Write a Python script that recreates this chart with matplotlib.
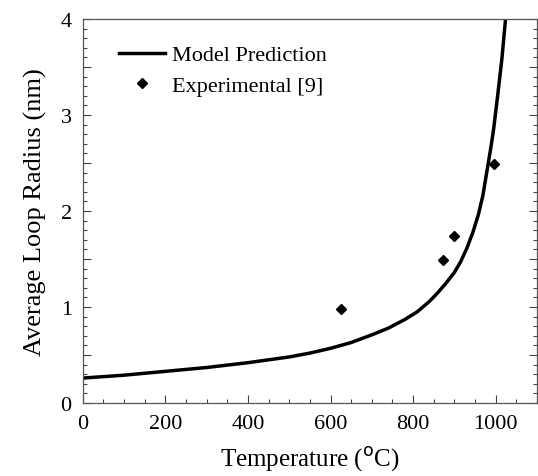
import matplotlib.pyplot as plt
from matplotlib.ticker import MultipleLocator, FuncFormatter

plt.rcParams['font.family'] = ['Liberation Serif', 'DejaVu Serif']

# Curva del modelo
temp_modelo = [0, 100, 200, 300, 400, 450, 500, 550, 600, 650, 700, 740, 780, 810, 840,
               860, 880, 900, 915, 930, 945, 958, 969, 981, 988, 995, 1004, 1015, 1024]
radio_modelo = [0.26, 0.29, 0.33, 0.37, 0.42, 0.45, 0.48, 0.52, 0.57, 0.63, 0.71, 0.78,
                0.87, 0.95, 1.06, 1.15, 1.25, 1.36, 1.47, 1.61, 1.78, 1.96, 2.16, 2.47,
                2.65, 2.85, 3.17, 3.58, 4.0]

# Puntos experimentales [9]
temp_exp = [625, 872, 898, 997]
radio_exp = [0.98, 1.49, 1.74, 2.49]

fig = plt.figure(figsize=(5.38, 4.77), dpi=100)
ax = fig.add_axes([0.154, 0.153, 0.844, 0.805])

ax.plot(temp_modelo, radio_modelo, color='black', lw=2.5, label='Model Prediction',
        solid_joinstyle='round')
ax.plot(temp_exp, radio_exp, 'D', color='black', ms=5.5, lw=0, label='Experimental [9]')

ax.set_xlim(0, 1100)
ax.set_ylim(0, 4)

ax.xaxis.set_major_locator(MultipleLocator(200))
ax.xaxis.set_minor_locator(MultipleLocator(50))
ax.yaxis.set_major_locator(MultipleLocator(0.5))
ax.yaxis.set_minor_locator(MultipleLocator(0.1))
ax.yaxis.set_major_formatter(FuncFormatter(lambda v, p: f"{v:.0f}" if v == int(v) else ""))

ax.tick_params(which='both', direction='in', top=False, right=True, labelsize=16,
               color='#444444', width=0.8)
ax.tick_params(which='major', length=6, pad=8)
ax.tick_params(which='minor', length=3)
for s in ax.spines.values():
    s.set_color('#555555')
    s.set_linewidth(0.9)

ax.set_xlabel("Temperature ($^{\\rm o}$C)", fontsize=18, labelpad=8)
ax.set_ylabel("Average Loop Radius (nm)", fontsize=19, labelpad=10)

ax.legend(loc='upper left', bbox_to_anchor=(0.035, 0.985), frameon=False, fontsize=16,
          handlelength=2.1, handletextpad=0.3, labelspacing=0.45)

plt.savefig("out.png", dpi=100)
